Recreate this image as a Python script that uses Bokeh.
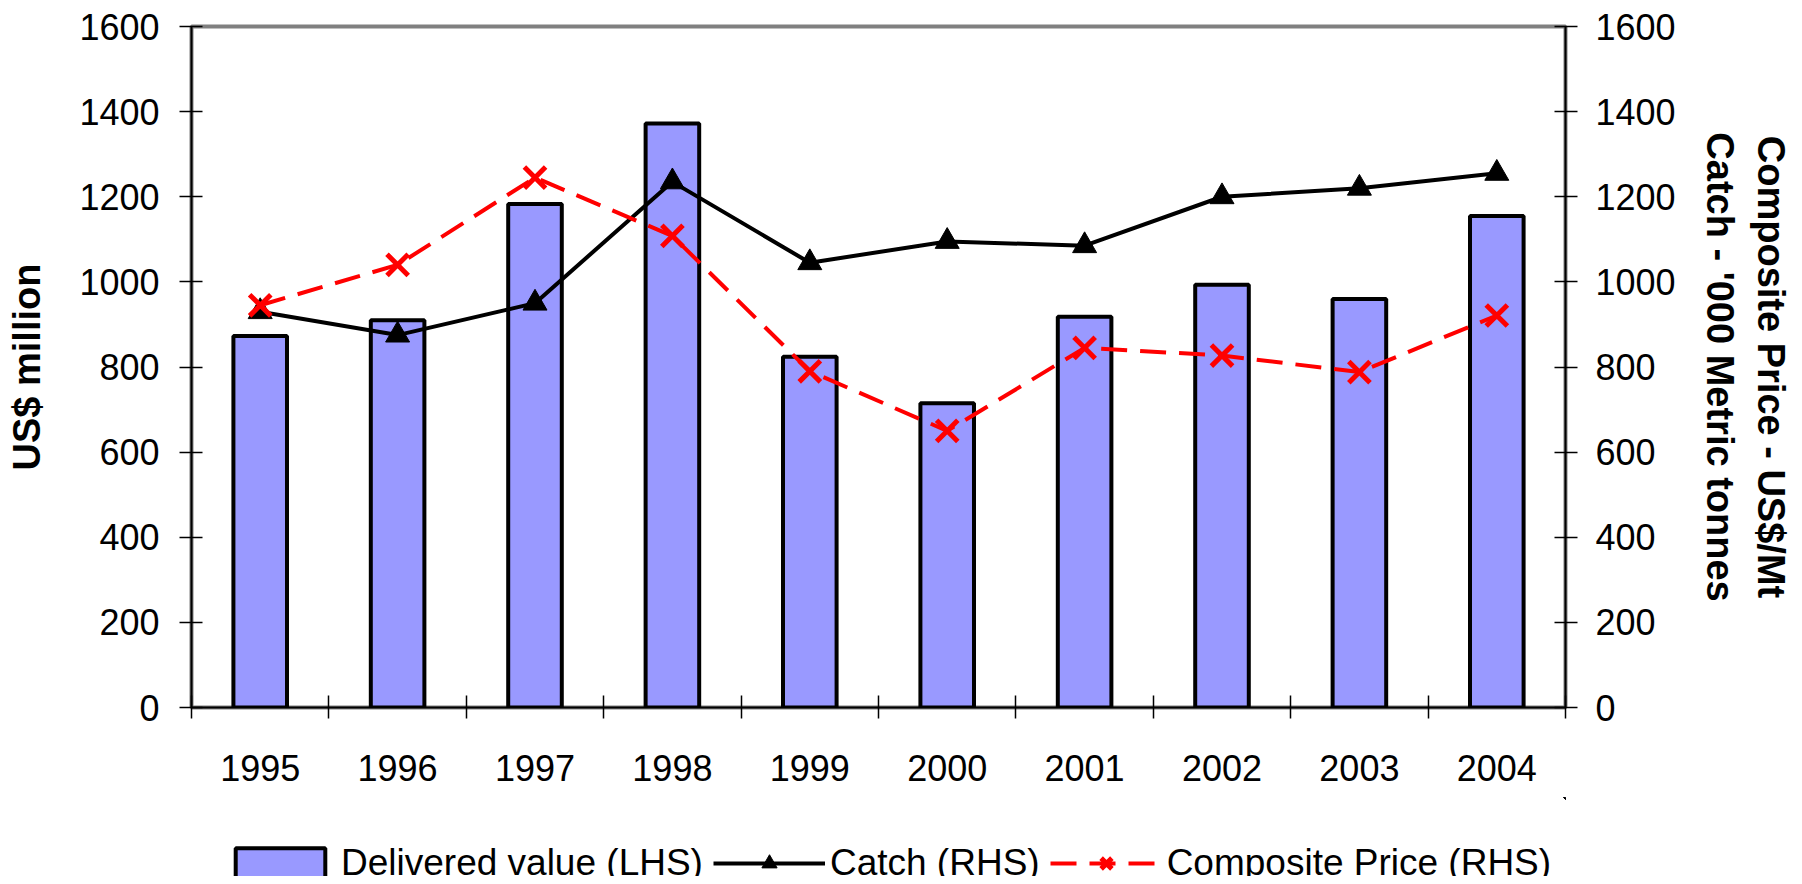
from bokeh.plotting import figure
from bokeh.layouts import column
from bokeh.models import Range1d, LinearAxis, FixedTicker, Legend, LegendItem
from bokeh.embed import file_html
from bokeh.resources import INLINE

# ---- data ----
years = [1995, 1996, 1997, 1998, 1999, 2000, 2001, 2002, 2003, 2004]
delivered_value = [873, 910, 1183, 1372, 824, 715, 918, 993, 960, 1155]
catch = [930, 875, 950, 1235, 1045, 1095, 1085, 1200, 1220, 1255]
composite_price = [945, 1040, 1245, 1108, 790, 650, 845, 827, 788, 921]
y_ticks = [0, 200, 400, 600, 800, 1000, 1200, 1400, 1600]
year_bounds = [y - 0.5 for y in years] + [years[-1] + 0.5]

FONT = "Liberation Sans"
BAR_STYLE = dict(fill_color="#9999FF", line_color="black", line_width=4)
CATCH_LINE = dict(line_color="black", line_width=4)
CATCH_MARK = dict(marker="triangle", fill_color="black", line_color="black", line_width=1)
PRICE_LINE = dict(line_color="#FF0000", line_width=4, line_dash="26 13")
PRICE_MARK = dict(marker="x", line_color="#FF0000", line_width=5)

W = 1802
p = figure(width=W, height=797,
           x_range=Range1d(years[0] - 0.5, years[-1] + 0.5),
           y_range=Range1d(0, 1600),
           output_backend="svg", toolbar_location=None,
           min_border_left=191, min_border_right=237,
           min_border_top=26, min_border_bottom=90)
p.grid.visible = False
p.outline_line_color = "#808080"
p.outline_line_width = 4
p.background_fill_color = "white"
p.border_fill_color = "white"

p.extra_y_ranges = {"rhs": Range1d(0, 1600)}
right_axis = LinearAxis(y_range_name="rhs")
p.add_layout(right_axis, "right")
right_axis2 = LinearAxis(y_range_name="rhs")
p.add_layout(right_axis2, "right")

p.vbar(x=years, top=delivered_value, bottom=0, width=0.39, **BAR_STYLE)
p.line(years, catch, y_range_name="rhs", **CATCH_LINE)
p.scatter(years, catch, y_range_name="rhs", size=24, **CATCH_MARK)
p.line(years, composite_price, y_range_name="rhs", **PRICE_LINE)
p.scatter(years, composite_price, y_range_name="rhs", size=30, **PRICE_MARK)

# x axis
xa = p.below[0]
xa.ticker = FixedTicker(ticks=years, minor_ticks=year_bounds)
xa.major_tick_in = 0
xa.major_tick_out = 0
xa.minor_tick_in = 12
xa.minor_tick_out = 11
xa.minor_tick_line_color = "black"
xa.minor_tick_line_width = 1.5
xa.axis_line_color = "black"
xa.axis_line_width = 2
xa.major_label_standoff = 36
xa.major_label_text_font = FONT
xa.major_label_text_font_size = "36px"
xa.major_label_text_color = "black"

for ax, standoff in ((p.left[0], 20), (right_axis, 18)):
    ax.ticker = FixedTicker(ticks=y_ticks)
    ax.major_tick_in = 11
    ax.major_tick_out = 12
    ax.minor_tick_in = 0
    ax.minor_tick_out = 0
    ax.major_tick_line_color = "black"
    ax.major_tick_line_width = 1.5
    ax.axis_line_color = "black"
    ax.axis_line_width = 2
    ax.major_label_standoff = standoff
    ax.major_label_text_font = FONT
    ax.major_label_text_font_size = "36px"
    ax.major_label_text_color = "black"

for ax in (p.left[0], right_axis, right_axis2):
    ax.axis_label_text_font = FONT
    ax.axis_label_text_font_size = "38px"
    ax.axis_label_text_font_style = "bold"
    ax.axis_label_text_color = "black"

# second right axis carries only the second title line
right_axis2.ticker = FixedTicker(ticks=[])
right_axis2.major_tick_in = 0
right_axis2.major_tick_out = 0
right_axis2.minor_tick_in = 0
right_axis2.minor_tick_out = 0
right_axis2.axis_line_alpha = 0
right_axis2.axis_label_standoff = 6

p.left[0].axis_label = "US$ million"
p.left[0].axis_label_standoff = 28
right_axis.axis_label = "Catch - '000 Metric tonnes"
right_axis.axis_label_standoff = 20
right_axis2.axis_label = "Composite Price - US$/Mt"

# ---- legend strip below the chart ----
p2 = figure(width=W, height=79, output_backend="svg", toolbar_location=None,
            x_axis_location=None, y_axis_location=None, min_border=0,
            x_range=Range1d(0, 1), y_range=Range1d(-2, -1))
p2.grid.visible = False
p2.outline_line_color = None
p2.background_fill_color = "white"
p2.border_fill_color = "white"
# same series, kept far outside the strip's visible ranges: they only feed the legend glyphs
lg_bar = p2.vbar(x=years, top=delivered_value, bottom=0, width=0.39, **BAR_STYLE)
lg_cl = p2.line(years, catch, **CATCH_LINE)
lg_cs = p2.scatter(years, catch, size=24, **CATCH_MARK)
lg_pl = p2.line(years, composite_price, **PRICE_LINE)
lg_ps = p2.scatter(years, composite_price, size=30, **PRICE_MARK)

legend = Legend(items=[
    LegendItem(label="Delivered value (LHS)", renderers=[lg_bar]),
    LegendItem(label="Catch (RHS)", renderers=[lg_cl, lg_cs]),
    LegendItem(label="Composite Price (RHS)", renderers=[lg_pl, lg_ps]),
], orientation="horizontal", location=(33, -8), padding=0, spacing=10,
    label_standoff=5, glyph_width=112, glyph_height=38, margin=0,
    label_text_font=FONT, label_text_font_size="37px", label_text_color="black",
    border_line_alpha=0, background_fill_alpha=0)
p2.add_layout(legend, "center")

layout = column(p, p2, spacing=0)
open("out.html", "w").write(file_html(layout, INLINE))
